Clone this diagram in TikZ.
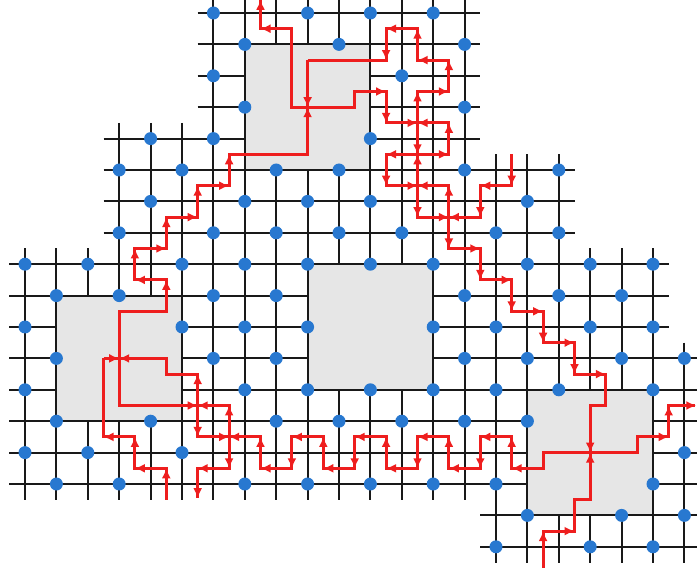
\documentclass[tikz,border=0pt]{standalone}
\usetikzlibrary{arrows.meta}
\definecolor{redl}{RGB}{238,30,30}
\definecolor{dotblue}{RGB}{40,120,208}
\definecolor{holegray}{RGB}{230,230,230}
\begin{document}
\begin{tikzpicture}[x=31.4pt,y=-31.4pt,
  gridline/.style={draw=black!90,line width=1.9pt},
  hole/.style={fill=holegray,draw=black!90,line width=1.9pt},
  qdot/.style={fill=dotblue},
  redline/.style={draw=redl,line width=2.9pt},
  redarr/.style={draw=redl,line width=2.9pt,-{Latex[length=10pt,width=9pt]}}]
\useasboundingbox (-0.7962,-0.414) rectangle (21.4013,17.675);
\clip (-0.7962,-0.414) rectangle (21.4013,17.675);
% grid
\foreach \r in {0,...,3} \draw[gridline] (5.5,\r) -- (14.5,\r);
\draw[gridline] (2.5,4) -- (14.5,4);
\foreach \r in {5,6,7} \draw[gridline] (2.5,\r) -- (17.5,\r);
\foreach \r in {8,9,10} \draw[gridline] (-0.5,\r) -- (20.5,\r);
\foreach \r in {11,...,15} \draw[gridline] (-0.5,\r) -- (21.7,\r);
\foreach \r in {16,17} \draw[gridline] (14.5,\r) -- (21.7,\r);
\foreach \c in {0,1,2} \draw[gridline] (\c,7.5) -- (\c,15.5);
\foreach \c in {3,4,5} \draw[gridline] (\c,3.5) -- (\c,15.5);
\foreach \c in {6,...,14} \draw[gridline] (\c,-0.7) -- (\c,15.5);
\foreach \c in {15,16,17} \draw[gridline] (\c,4.5) -- (\c,17.5);
\foreach \c in {18,19,20} \draw[gridline] (\c,7.5) -- (\c,17.5);
\draw[gridline] (21,10.5) -- (21,17.5);
% holes
\path[hole] (7,1) rectangle (11,5);
\path[hole] (1,9) rectangle (5,13);
\path[hole] (9,8) rectangle (13,12);
\path[hole] (16,12) rectangle (20,16);
% dots
\foreach \r/\cs in {0/{6,9,11,13},1/{7,10,14},2/{6,12},3/{7,14},4/{4,6,11},
  5/{3,5,8,10,14,17},6/{4,7,9,11,16},7/{3,6,8,10,12,15,17},
  8/{0,2,5,7,9,11,13,16,18,20},9/{1,3,6,8,14,17,19},10/{0,5,7,9,13,15,18,20},
  11/{1,6,8,14,16,19,21},12/{0,7,9,11,13,15,17,20},13/{1,4,8,10,12,14,16},
  14/{0,2,5,21},15/{1,3,7,9,11,13,15,20},16/{16,19,21},17/{15,18,20}}
  {\foreach \c in \cs {\fill[qdot] (\c,\r) circle (6.5pt);}}
% red paths
\draw[redline] (7.5,-0.45) -- (7.5,0.5) -- (8.5,0.5) -- (8.5,3) -- (10.5,3) -- (10.5,2.5)
  -- (11.5,2.5) -- (11.5,3.5) -- (13.5,3.5) -- (13.5,4.5) -- (11.5,4.5) -- (11.5,5.5)
  -- (13.5,5.5) -- (13.5,7.5) -- (14.5,7.5) -- (14.5,8.5) -- (15.5,8.5) -- (15.5,9.5)
  -- (16.5,9.5) -- (16.5,10.5) -- (17.5,10.5) -- (17.5,11.5) -- (18.5,11.5) -- (18.5,12.5)
  -- (18,12.5) -- (18,15.5) -- (17.5,15.5) -- (17.5,16.5) -- (16.5,16.5) -- (16.5,17.8);
\draw[redline] (9,1.5) -- (9,4.5) -- (6.5,4.5) -- (6.5,5.5) -- (5.5,5.5) -- (5.5,6.5)
  -- (4.5,6.5) -- (4.5,7.5) -- (3.5,7.5) -- (3.5,8.5) -- (4.5,8.5) -- (4.5,9.5) -- (3,9.5)
  -- (3,12.5) -- (6.5,12.5) -- (6.5,14.5) -- (5.5,14.5) -- (5.5,15.45);
\draw[redline] (9,1.5) -- (11.5,1.5) -- (11.5,0.5) -- (12.5,0.5) -- (12.5,1.5) -- (13.5,1.5)
  -- (13.5,2.5) -- (12.5,2.5) -- (12.5,6.5) -- (14.5,6.5) -- (14.5,5.5) -- (15.5,5.5) -- (15.5,4.5);
\draw[redline] (2.5,11) -- (4.5,11) -- (4.5,11.5) -- (5.5,11.5) -- (5.5,13.5) -- (7.5,13.5)
  -- (7.5,14.5) -- (8.5,14.5) -- (8.5,13.5) -- (9.5,13.5) -- (9.5,14.5) -- (10.5,14.5)
  -- (10.5,13.5) -- (11.5,13.5) -- (11.5,14.5) -- (12.5,14.5) -- (12.5,13.5) -- (13.5,13.5)
  -- (13.5,14.5) -- (14.5,14.5) -- (14.5,13.5) -- (15.5,13.5) -- (15.5,14.5) -- (16.5,14.5)
  -- (16.5,14) -- (19.5,14) -- (19.5,13.5) -- (20.5,13.5) -- (20.5,12.5) -- (21.35,12.5);
\draw[redline] (2.5,11) -- (2.5,13.5) -- (3.5,13.5) -- (3.5,14.5) -- (4.5,14.5) -- (4.5,15.5);
% arrowheads: left
\foreach \x/\y in {7.5/0.5,11.5/0.5,12.5/1.5,12.5/3.5,11.5/4.5,12.5/5.5,13.5/6.5,14.5/5.5,
  15.5/14.5,14.5/13.5,13.5/14.5,12.5/13.5,11.5/14.5,10.5/13.5,9.5/14.5,8.5/13.5,7.5/14.5,
  6.5/13.5,5.5/12.5,3/11,3.5/8.5,5.5/14.5,2.5/13.5,3.5/14.5}
  \draw[redarr] (\x+0.35,\y) -- (\x,\y);
% right
\foreach \x/\y in {11.5/2.5,12.5/3.5,13.5/2.5,13.5/4.5,12.5/5.5,13.5/6.5,14.5/7.5,15.5/8.5,
  16.5/9.5,17.5/10.5,18.5/11.5,17.5/16.5,20.5/13.5,21.38/12.5,4.5/7.5,5.5/6.5,6.5/5.5,
  3/11,5.5/12.5,6.5/13.5}
  \draw[redarr] (\x-0.35,\y) -- (\x,\y);
% up
\foreach \x/\y in {7.5/-0.42,12.5/0.5,13.5/1.5,12.5/2.5,13.5/3.5,12.5/4.5,13.5/5.5,9/3,
  6.5/4.5,5.5/5.5,4.5/6.5,3.5/7.5,4.5/8.5,5.5/11.5,6.5/12.5,15.5/13.5,13.5/13.5,11.5/13.5,
  9.5/13.5,7.5/13.5,3.5/13.5,4.5/14.5,16.5/16.5,18/14,20.5/12.5}
  \draw[redarr] (\x,\y+0.35) -- (\x,\y);
% down
\foreach \x/\y in {11.5/1.5,9/3,11.5/3.5,12.5/4.5,11.5/5.5,12.5/6.5,13.5/7.5,14.5/8.5,
  15.5/9.5,16.5/10.5,17.5/11.5,18/14,15.5/5.5,14.5/6.5,14.5/14.5,12.5/14.5,10.5/14.5,
  8.5/14.5,6.5/14.5,5.5/13.5,5.5/15.45}
  \draw[redarr] (\x,\y-0.35) -- (\x,\y);
\end{tikzpicture}
\end{document}
